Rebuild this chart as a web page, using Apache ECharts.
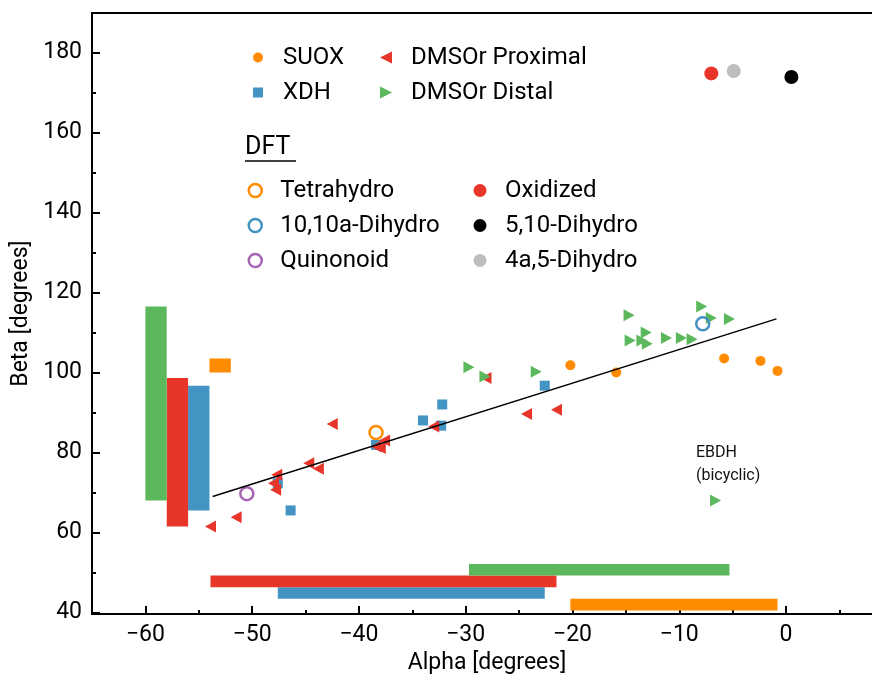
<!DOCTYPE html>
<html>
<head>
<meta charset="utf-8">
<script src="https://cdn.jsdelivr.net/npm/echarts@6/dist/echarts.min.js"></script>
<style>
html, body { margin: 0; padding: 0; background: #fff; }
#chart { width: 872px; height: 682px; }
</style>
</head>
<body>
<div id="chart"></div>
<script>
// experimental structures, [alpha, beta] in degrees
var suox = [[-20.2, 101.8], [-15.9, 100.0], [-5.8, 103.5], [-2.4, 102.9], [-0.8, 100.4]];
var xdh = [[-47.6, 72.3], [-46.4, 65.5], [-38.4, 81.9], [-34.0, 88.0], [-32.2, 92.0],
  [-32.3, 86.7], [-22.6, 96.7]];
var dmsoProximal = [[-53.9, 61.5], [-51.5, 63.8], [-47.7, 74.4], [-48.0, 72.3], [-47.8, 70.7],
  [-44.7, 77.3], [-43.8, 75.9], [-42.5, 87.1], [-38.4, 81.5], [-37.6, 83.0], [-38.0, 81.1],
  [-33.0, 86.5], [-28.1, 98.6], [-24.3, 89.6], [-21.5, 90.7]];
var dmsoDistal = [[-29.7, 101.3], [-28.2, 99.0], [-23.4, 100.2], [-14.7, 114.3], [-14.6, 108.0],
  [-13.5, 108.0], [-13.1, 110.0], [-13.0, 107.2], [-11.2, 108.6], [-9.8, 108.6], [-8.8, 108.3],
  [-7.9, 116.5], [-7.0, 113.6], [-5.3, 113.4], [-6.6, 68.0]];

// DFT structures
var tetrahydro = [[-38.4, 85.0]];
var dihydro10a = [[-7.8, 112.2]];
var quinonoid = [[-50.5, 69.7]];
var oxidized = [[-7.0, 174.8]];
var dihydro510 = [[0.5, 173.9]];
var dihydro4a5 = [[-4.9, 175.4]];

// linear fit
var fitLine = [[-53.7, 69.0], [-0.9, 113.4]];

var xMajor = [-60, -50, -40, -30, -20, -10, 0];
var xMinor = [-55, -45, -35, -25, -15, -5, 5];
var yMajor = [40, 60, 80, 100, 120, 140, 160, 180];
var yMinor = [50, 70, 90, 110, 130, 150, 170];

var FONT = 'Roboto';
var C_ORANGE = '#ff8c00', C_BLUE = '#4393c3', C_RED = '#e8352a', C_GREEN = '#5cb85c';
var C_PURPLE = '#a865b5', C_GRAY = '#bdbdbd', C_BLACK = '#000000';
var rangeColors = [C_ORANGE, C_BLUE, C_RED, C_GREEN];

// range bars: min/max of each family, drawn along the left and bottom edges
function extent(pts, k) {
  var lo = Infinity, hi = -Infinity;
  for (var i = 0; i < pts.length; i++) {
    lo = Math.min(lo, pts[i][k]);
    hi = Math.max(hi, pts[i][k]);
  }
  return [lo, hi];
}
var families = [suox, xdh, dmsoProximal, dmsoDistal];
var vertBandX = [-54, -56, -58, -60];       // left edge of beta-range bars
var horizBandY = [40.5, 43.4, 46.3, 49.2];  // bottom edge of alpha-range bars
var rangeData = [];
for (var f = 0; f < families.length; f++) {
  var a = extent(families[f], 0), b = extent(families[f], 1);
  rangeData.push([vertBandX[f], vertBandX[f] + 2, b[0], b[1], f]);
  rangeData.push([a[0], a[1], horizBandY[f], horizBandY[f] + 2.9, f]);
}

var TRI_LEFT = 'path://M0,5L10,0L10,10Z';
var TRI_RIGHT = 'path://M0,0L10,5L0,10Z';
var SQUARE = 'path://M0,0L10,0L10,10L0,10Z';

function fmt(v) { return String(v).replace('-', '\u2212'); }

var myChart = echarts.init(document.getElementById('chart'));

var legendCommon = {
  orient: 'vertical',
  padding: 0,
  itemGap: 11,
  itemWidth: 40,
  selectedMode: false,
  textStyle: { fontFamily: FONT, fontSize: 24, color: '#000', lineHeight: 23 }
};
function legend(extra) {
  return Object.assign({}, legendCommon, extra);
}

function ringStyle(c) {
  return { color: 'rgba(0,0,0,0)', borderColor: c, borderWidth: 2.5, opacity: 1 };
}
function solid(c) {
  return { color: c, opacity: 1 };
}

var option = {
  animation: false,
  backgroundColor: '#fff',
  grid: { left: 92, right: 0, top: 13, bottom: 68, outerBoundsMode: 'none' },
  xAxis: [
    {
      type: 'value', min: -65, max: 8.05, position: 'bottom',
      name: 'Alpha [degrees]', nameLocation: 'middle', nameGap: 38,
      nameTextStyle: { fontFamily: FONT, fontSize: 23, color: '#000', padding: [0, 0, 0, 10] },
      axisLine: { onZero: false, lineStyle: { color: '#000', width: 2 } },
      axisTick: { inside: true, length: 8, customValues: xMajor, lineStyle: { color: '#000', width: 2 } },
      axisLabel: { customValues: xMajor, formatter: fmt, margin: 10,
        fontFamily: FONT, fontSize: 23, color: '#000' },
      splitLine: { show: false }
    },
    {
      type: 'value', min: -65, max: 8.05, position: 'bottom',
      axisLine: { show: false, onZero: false },
      axisTick: { inside: true, length: 4, customValues: xMinor, lineStyle: { color: '#000', width: 2 } },
      axisLabel: { show: false },
      splitLine: { show: false }
    },
    {
      type: 'value', min: -65, max: 8.05, position: 'top',
      axisLine: { onZero: false, lineStyle: { color: '#000', width: 2 } },
      axisTick: { show: false },
      axisLabel: { show: false },
      splitLine: { show: false }
    }
  ],
  yAxis: [
    {
      type: 'value', min: 39.6, max: 189.9, position: 'left',
      name: 'Beta [degrees]', nameLocation: 'middle', nameGap: 55,
      nameTextStyle: { fontFamily: FONT, fontSize: 23, color: '#000' },
      axisLine: { onZero: false, lineStyle: { color: '#000', width: 2 } },
      axisTick: { inside: true, length: 8, customValues: yMajor, lineStyle: { color: '#000', width: 2 } },
      axisLabel: { customValues: yMajor, formatter: fmt, margin: 10,
        fontFamily: FONT, fontSize: 23, color: '#000' },
      splitLine: { show: false }
    },
    {
      type: 'value', min: 39.6, max: 189.9, position: 'left',
      axisLine: { show: false, onZero: false },
      axisTick: { inside: true, length: 4, customValues: yMinor, lineStyle: { color: '#000', width: 2 } },
      axisLabel: { show: false },
      splitLine: { show: false }
    }
  ],
  legend: [
    legend({ data: ['SUOX', 'XDH'], left: 253, top: 45.5, itemHeight: 10 }),
    legend({ data: ['DMSOr Proximal', 'DMSOr Distal'], left: 380, top: 45.5, itemHeight: 12 }),
    legend({
      data: [
        { name: 'Tetrahydro', itemStyle: ringStyle(C_ORANGE) },
        { name: '10,10a-Dihydro', itemStyle: ringStyle(C_BLUE) },
        { name: 'Quinonoid', itemStyle: ringStyle(C_PURPLE) }
      ],
      left: 247.5, top: 178.5, itemHeight: 13
    }),
    legend({ data: ['Oxidized', '5,10-Dihydro', '4a,5-Dihydro'], left: 473.5, top: 178.5, itemHeight: 13 })
  ],
  graphic: [
    { type: 'text', left: 245, top: 135,
      style: { text: 'DFT', font: '25px ' + FONT, fill: '#000' } },
    { type: 'line', shape: { x1: 245, y1: 161, x2: 296, y2: 161 },
      style: { stroke: '#000', lineWidth: 1.5 } },
    { type: 'text', left: 696, top: 441,
      style: { text: 'EBDH\n(bicyclic)', font: '16px ' + FONT, lineHeight: 23, fill: '#111' } }
  ],
  series: [
    {
      name: 'ranges', type: 'custom', silent: true,
      encode: { x: [0, 1], y: [2, 3] },
      data: rangeData,
      renderItem: function (params, api) {
        var p0 = api.coord([api.value(0), api.value(3)]);
        var p1 = api.coord([api.value(1), api.value(2)]);
        return {
          type: 'rect',
          shape: { x: p0[0], y: p0[1], width: p1[0] - p0[0], height: p1[1] - p0[1] },
          style: { fill: rangeColors[api.value(4)] }
        };
      }
    },
    {
      name: 'fit', type: 'line', data: fitLine, showSymbol: false, silent: true,
      lineStyle: { color: '#000', width: 1.5 }
    },
    { name: 'XDH', type: 'scatter', data: xdh, symbol: SQUARE, symbolSize: 10,
      itemStyle: solid(C_BLUE) },
    { name: 'SUOX', type: 'scatter', data: suox, symbol: 'circle', symbolSize: 10,
      itemStyle: solid(C_ORANGE) },
    { name: 'DMSOr Proximal', type: 'scatter', data: dmsoProximal, symbol: TRI_LEFT, symbolSize: [11, 12],
      itemStyle: solid(C_RED) },
    { name: 'DMSOr Distal', type: 'scatter', data: dmsoDistal, symbol: TRI_RIGHT, symbolSize: [11, 12],
      itemStyle: solid(C_GREEN) },
    { name: 'Tetrahydro', type: 'scatter', data: tetrahydro, symbol: 'circle', symbolSize: 13,
      itemStyle: ringStyle(C_ORANGE) },
    { name: '10,10a-Dihydro', type: 'scatter', data: dihydro10a, symbol: 'circle', symbolSize: 13,
      itemStyle: ringStyle(C_BLUE) },
    { name: 'Quinonoid', type: 'scatter', data: quinonoid, symbol: 'circle', symbolSize: 13,
      itemStyle: ringStyle(C_PURPLE) },
    { name: 'Oxidized', type: 'scatter', data: oxidized, symbol: 'circle', symbolSize: 14,
      itemStyle: solid(C_RED) },
    { name: '5,10-Dihydro', type: 'scatter', data: dihydro510, symbol: 'circle', symbolSize: 14,
      itemStyle: solid(C_BLACK) },
    { name: '4a,5-Dihydro', type: 'scatter', data: dihydro4a5, symbol: 'circle', symbolSize: 14,
      itemStyle: solid(C_GRAY) }
  ]
};
myChart.setOption(option);
</script>
</body>
</html>
